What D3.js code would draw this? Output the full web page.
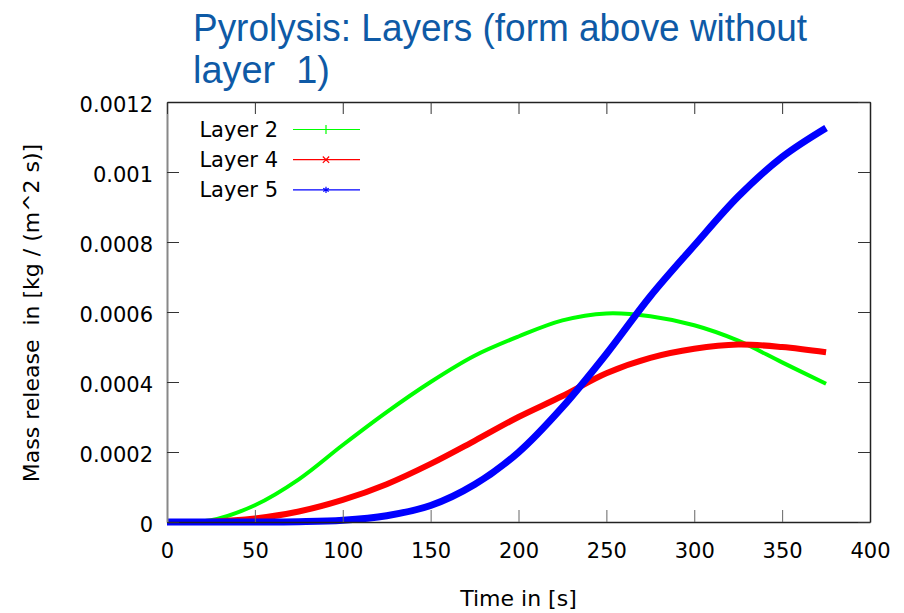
<!DOCTYPE html>
<html>
<head>
<meta charset="utf-8">
<script src="https://cdn.jsdelivr.net/npm/d3@7"></script>
<style>
  body { margin: 0; background: #fff; }
  svg { display: block; }
</style>
</head>
<body>
<div class="chart"></div>
<script>
var width = 904
  , height = 613
  ;

// time samples [s]
var times = [0, 25, 50, 75, 100, 125, 150, 175, 200, 225, 250, 275, 300, 325, 350, 375];

// mass release [kg / (m^2 s)]
var layer2 = [0, 0.000005, 0.000048, 0.000122, 0.00022, 0.000314, 0.0004, 0.000475,
              0.00053, 0.000576, 0.000596, 0.000588, 0.000562, 0.000518, 0.000456, 0.000395];
var layer4 = [0, 0.000001, 0.00001, 0.00003, 0.000063, 0.000108, 0.000166, 0.000232,
              0.0003, 0.00036, 0.000425, 0.000469, 0.000495, 0.000507, 0.0005, 0.000485];
var layer5 = [0, 0, 0, 0.000001, 0.000005, 0.000018, 0.000047, 0.000107,
              0.000199, 0.000328, 0.00048, 0.000645, 0.00079, 0.00093, 0.001043, 0.001126];

var seriesNames = ["Layer 2", "Layer 4", "Layer 5"];
var xTicks = [0, 50, 100, 150, 200, 250, 300, 350, 400];
var yTicks = [0, 0.0002, 0.0004, 0.0006, 0.0008, 0.001, 0.0012];

var series = [
    { name: seriesNames[0], values: layer2, color: "#00ff00", w: 4,   symbol: d3.symbolPlus }
  , { name: seriesNames[1], values: layer4, color: "#ff0000", w: 6,   symbol: d3.symbolTimes }
  , { name: seriesNames[2], values: layer5, color: "#0000ff", w: 7,   symbol: d3.symbolAsterisk }
];

var plotLeft = 167, plotRight = 870, plotTop = 102, plotBottom = 522;

var x = d3.scaleLinear().domain([0, 400]).range([plotLeft, plotRight]);
var y = d3.scaleLinear().domain([0, 0.0012]).range([plotBottom, plotTop]);

var svg = d3.select(".chart").append("svg")
    .attr("width", width)
    .attr("height", height);

// title
var title = svg.append("g")
    .attr("fill", "#0e5aa6")
    .style("font-family", "'Liberation Sans Narrow', 'Liberation Sans', Arial, sans-serif")
    .style("font-size", "38px");
title.append("text")
    .attr("x", 193).attr("y", 41)
    .attr("textLength", 614)
    .attr("lengthAdjust", "spacingAndGlyphs")
    .text("Pyrolysis: Layers (form above without");
title.append("text")
    .attr("x", 193).attr("y", 83)
    .attr("textLength", 137)
    .attr("lengthAdjust", "spacingAndGlyphs")
    .style("white-space", "pre")
    .text("layer  1)");

// data lines
var line = d3.line()
    .x(function(d, i) { return x(times[i]); })
    .y(function(d) { return y(d); })
    .curve(d3.curveCatmullRom.alpha(0.5));

svg.selectAll("path.series")
    .data(series)
    .enter().append("path")
    .attr("class", "series")
    .attr("fill", "none")
    .attr("stroke", function(d) { return d.color; })
    .attr("stroke-width", function(d) { return d.w; })
    .attr("d", function(d) { return line(d.values); });

// axes, ticks pointing inward on all four sides
var tickFont = "'DejaVu Sans', Verdana, sans-serif";

var gx = svg.append("g")
    .attr("transform", "translate(0," + plotBottom + ")")
    .call(d3.axisBottom(x).tickValues(xTicks).tickSizeInner(-12).tickSizeOuter(0).tickPadding(21));
var gy = svg.append("g")
    .attr("transform", "translate(" + plotLeft + ",0)")
    .call(d3.axisLeft(y).tickValues(yTicks).tickSizeInner(-12).tickSizeOuter(0).tickPadding(14)
      .tickFormat(function(d) { return d === 0 ? "0" : String(+d.toFixed(4)); }));
var gt = svg.append("g")
    .attr("transform", "translate(0," + plotTop + ")")
    .call(d3.axisTop(x).tickValues(xTicks).tickSizeInner(-12).tickSizeOuter(0).tickFormat(""));
var gr = svg.append("g")
    .attr("transform", "translate(" + plotRight + ",0)")
    .call(d3.axisRight(y).tickValues(yTicks).tickSizeInner(-12).tickSizeOuter(0).tickFormat(""));

[gx, gy, gt, gr].forEach(function(g) {
  g.selectAll("text")
    .attr("fill", "#000")
    .style("font-family", tickFont)
    .style("font-size", "21px");
  g.selectAll("line").attr("stroke", "#333");
  g.select(".domain").attr("stroke", "#222").attr("stroke-width", 1.5);
});
gy.select(".domain").attr("stroke", "#888").attr("stroke-width", 2);
gy.selectAll("text").attr("dy", "0.45em");
gx.selectAll("line").attr("stroke", "#666");

// axis titles
svg.append("text")
    .attr("x", (plotLeft + plotRight) / 2).attr("y", 606)
    .attr("text-anchor", "middle")
    .style("font-family", tickFont)
    .style("font-size", "22px")
    .text("Time in [s]");
svg.append("text")
    .attr("transform", "translate(39,313)rotate(-90)")
    .attr("text-anchor", "middle")
    .style("font-family", tickFont)
    .style("font-size", "22px")
    .style("white-space", "pre")
    .text("Mass release  in [kg / (m^2 s)]");

// legend
var legend = svg.selectAll("g.legend")
    .data(series)
    .enter().append("g")
    .attr("class", "legend")
    .attr("transform", function(d, i) { return "translate(0," + (129.5 + i * 30.2) + ")"; });

legend.append("text")
    .attr("x", 278).attr("dy", "0.36em")
    .attr("text-anchor", "end")
    .style("font-family", tickFont)
    .style("font-size", "21px")
    .text(function(d) { return d.name; });
legend.append("line")
    .attr("x1", 293).attr("x2", 360)
    .attr("stroke", function(d) { return d.color; })
    .attr("stroke-width", 1.2);
legend.append("path")
    .attr("transform", "translate(326,0)")
    .attr("d", function(d) { return d3.symbol().type(d.symbol).size(28)(); })
    .attr("fill", "none")
    .attr("stroke", function(d) { return d.color; })
    .attr("stroke-width", 1.2);
</script>
</body>
</html>
